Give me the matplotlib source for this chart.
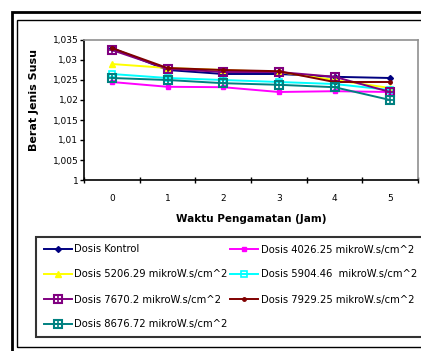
import matplotlib
matplotlib.use("Agg")
import matplotlib.pyplot as plt
from matplotlib.patches import Rectangle
from matplotlib.ticker import FixedLocator, FuncFormatter

plt.rcParams['font.family'] = ['DejaVu Sans']

hours = [0, 1, 2, 3, 4, 5]
hour_labels = ["0", "1", "2", "3", "4", "5"]

kontrol = [1.0330, 1.0275, 1.0265, 1.0265, 1.0258, 1.0255]
d4026 = [1.0245, 1.0233, 1.0232, 1.0220, 1.0222, 1.0220]
d5206 = [1.0290, 1.0280, 1.0275, 1.0270, 1.0250, 1.0230]
d5904 = [1.0265, 1.0255, 1.0250, 1.0245, 1.0240, 1.0225]
d7670 = [1.0325, 1.0278, 1.0270, 1.0270, 1.0258, 1.0220]
d7929 = [1.0330, 1.0280, 1.0275, 1.0272, 1.0245, 1.0245]
d8676 = [1.0255, 1.0250, 1.0242, 1.0238, 1.0232, 1.0200]

names = [
    "Dosis Kontrol",
    "Dosis 4026.25 mikroW.s/cm^2",
    "Dosis 5206.29 mikroW.s/cm^2",
    "Dosis 5904.46  mikroW.s/cm^2",
    "Dosis 7670.2 mikroW.s/cm^2",
    "Dosis 7929.25 mikroW.s/cm^2",
    "Dosis 8676.72 mikroW.s/cm^2",
]
y_ticks = [1.0, 1.005, 1.01, 1.015, 1.02, 1.025, 1.03, 1.035]

W, H = 421, 351
fig = plt.figure(figsize=(W / 100, H / 100), dpi=100)
fig.patch.set_facecolor("white")

# double frame around the chart
fig.add_artist(Rectangle((12 / W, -0.05), 1.2, (H - 12) / H + 0.05, transform=fig.transFigure,
                         fill=False, ec="black", lw=2.0))
fig.add_artist(Rectangle((17 / W, 1 - 347 / H), 1.2, (347 - 20) / H, transform=fig.transFigure,
                         fill=False, ec="black", lw=1.0))

ax = fig.add_axes([84 / W, 1 - 180 / H, (418 - 84) / W, 140 / H])

lw = 1.4
h_k, = ax.plot(hours, kontrol, color="#000080", lw=lw, marker="D", ms=3, mfc="#000080", mec="#000080")
h_4, = ax.plot(hours, d4026, color="#FF00FF", lw=lw, marker="s", ms=2.5, mfc="#FF00FF", mec="#FF00FF")
h_5, = ax.plot(hours, d5206, color="#FFFF00", lw=lw, marker="^", ms=4, mfc="#FFFF00", mec="#FFFF00")
h_59, = ax.plot(hours, d5904, color="#00FFFF", lw=lw, marker="s", ms=5, mfc="none", mec="#00FFFF", mew=1.2)
h_76s, = ax.plot(hours, d7670, color="#800080", lw=lw, marker="s", ms=6, mfc="none", mec="#800080", mew=1.5)
h_76p, = ax.plot(hours, d7670, color="#800080", lw=0, marker="+", ms=6, mec="#800080", mew=1.2)
h_79, = ax.plot(hours, d7929, color="#800000", lw=lw, marker="o", ms=2.5, mfc="#800000", mec="#800000")
h_86s, = ax.plot(hours, d8676, color="#008080", lw=lw, marker="s", ms=6, mfc="none", mec="#008080", mew=1.5)
h_86p, = ax.plot(hours, d8676, color="#008080", lw=0, marker="+", ms=6, mec="#008080", mew=1.2)

ax.set_xlim(-0.5, 5.5)
ax.set_ylim(1.0, 1.035)

ax.xaxis.set_major_locator(FixedLocator([i - 0.5 for i in range(7)]))
ax.xaxis.set_major_formatter(FuncFormatter(lambda v, p: ""))
ax.xaxis.set_minor_locator(FixedLocator(hours))
ax.set_xticklabels(hour_labels, minor=True)
ax.tick_params(axis="x", which="major", direction="inout", length=5, width=1.0)
ax.tick_params(axis="x", which="minor", length=0, pad=10, labelsize=6.5)

ax.set_yticks(y_ticks)
ax.set_yticklabels([("%g" % v).replace(".", ",") for v in y_ticks])
ax.tick_params(axis="y", direction="out", length=3, width=1.0, labelsize=6.5, pad=1)

for s in ("left", "bottom"):
    ax.spines[s].set_color("black")
    ax.spines[s].set_linewidth(1.2)
for s in ("top", "right"):
    ax.spines[s].set_color("#909090")
    ax.spines[s].set_linewidth(1.2)

ax.set_xlabel("Waktu Pengamatan (Jam)", fontsize=7.5, fontweight="bold", labelpad=8)
ax.set_ylabel("Berat Jenis Susu", fontsize=8, fontweight="bold", labelpad=4)
ax.yaxis.set_label_coords(-0.135, 0.57)

handles = [h_k, h_5, (h_76s, h_76p), (h_86s, h_86p), h_4, h_59, h_79]
labels = [names[0], names[2], names[4], names[6], names[1], names[3], names[5]]
leg = fig.legend(handles, labels, loc="upper left", bbox_to_anchor=(36 / W, 1 - 237 / H),
                 ncol=2, fontsize=7.2, frameon=True, fancybox=False, edgecolor="black",
                 handlelength=2.8, handletextpad=0.25, columnspacing=0.3, labelspacing=1.5,
                 borderpad=0.75, borderaxespad=0)
leg.get_frame().set_linewidth(1.5)

fig.savefig("out.png", dpi=100, facecolor="white")
